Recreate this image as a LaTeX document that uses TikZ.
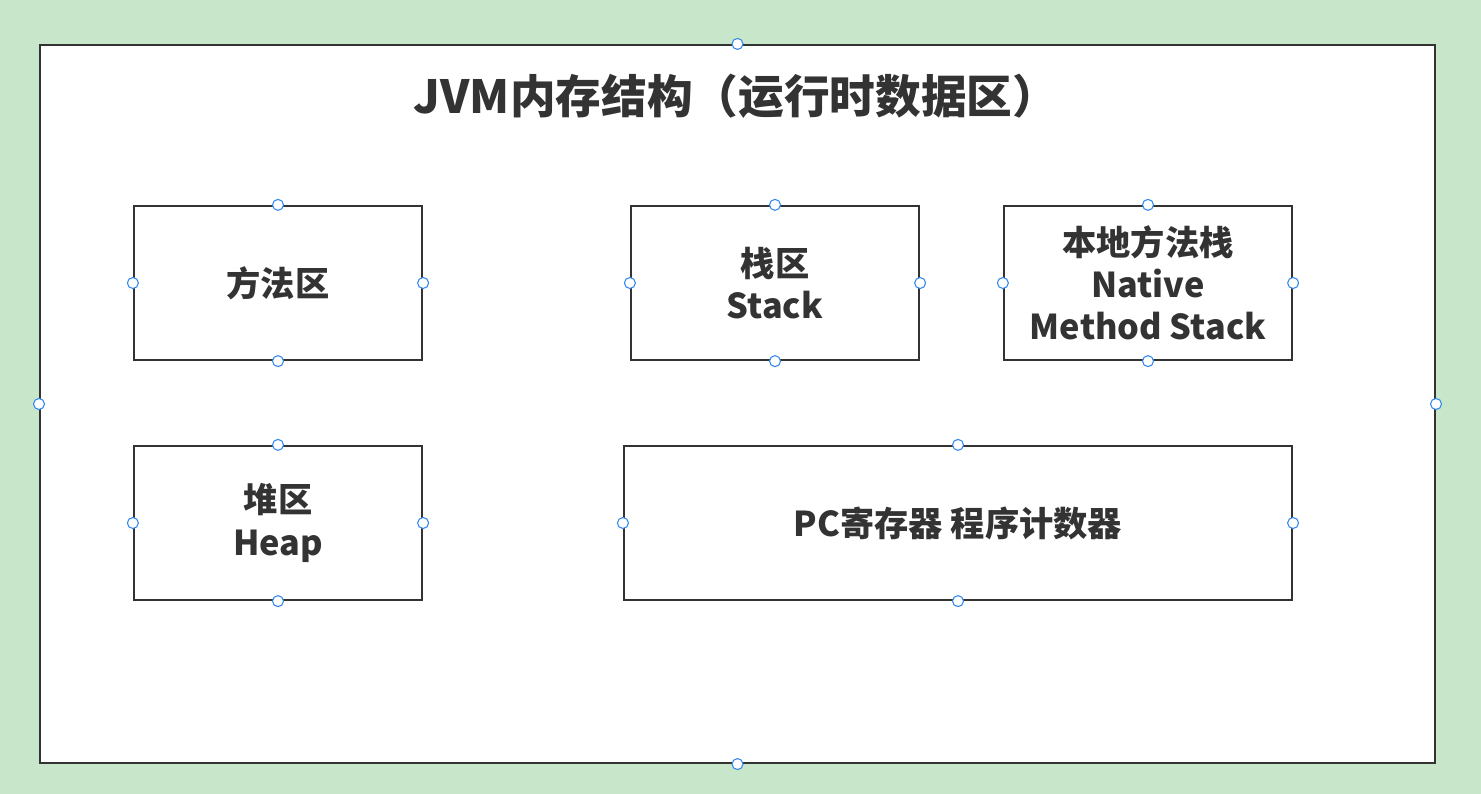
\documentclass[tikz,border=0pt]{standalone}
\usepackage{fontspec}
\setmainfont{Noto Sans CJK SC}
\usetikzlibrary{positioning}
\definecolor{bggreen}{HTML}{C8E6C9}
\definecolor{inkgray}{HTML}{333333}
\definecolor{handleblue}{HTML}{2F88F0}
\tikzset{
  area/.style={draw=inkgray, line width=1.3pt, fill=white, text=inkgray,
    font=\bfseries\fontsize{19.5}{24}\selectfont, align=center,
    minimum width=5.76cm, minimum height=3.08cm, inner sep=0pt},
  handle/.style={draw=handleblue, line width=0.6pt, fill=white}
}
\begin{document}
\begin{tikzpicture}[x=0.02cm,y=-0.02cm]
			%%%%% canvas %%%%%
			\fill[bggreen] (0,0) rectangle (1481,794);
			\useasboundingbox (0,0) rectangle (1481,794);
			
			\node[area, minimum width=27.9cm, minimum height=14.36cm] (outer) at (737.5,404) {};
			\node[text=inkgray, font=\bfseries\fontsize{26}{30}\selectfont] (title) at (736,96) {JVM内存结构（运行时数据区）};
			
			%%%%% areas %%%%%
			\node[area] (method) at (278,283) {方法区};
			\node[area] (stack) at (775,283) {栈区\\Stack};
			\node[area] (native) at (1148,283) {本地方法栈\\Native\\Method Stack};
			\node[area] (heap) at (278,523) {堆区\\Heap};
			\node[area, minimum width=13.36cm] (pc) at (958,523) {PC寄存器 程序计数器};
			
			%%%%% handles %%%%%
			\foreach \n in {outer,method,stack,native,heap,pc}
				\foreach \a in {north,south,east,west}
					\draw[handle] (\n.\a) circle (0.11cm);
\end{tikzpicture}
\end{document}
